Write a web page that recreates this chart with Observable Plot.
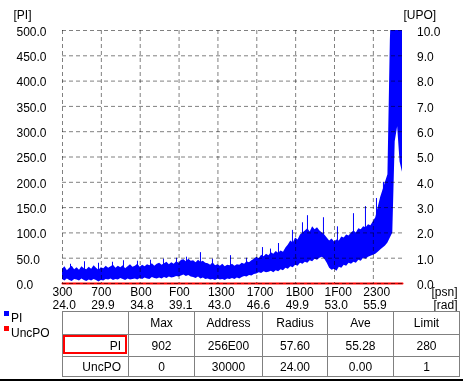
<!DOCTYPE html>
<html><head><meta charset="utf-8">
<script src="https://cdn.jsdelivr.net/npm/d3@7"></script>
<script src="https://cdn.jsdelivr.net/npm/@observablehq/plot@0.6"></script>
<style>
body{margin:0;background:#fff;}
#wrap{position:relative;width:463px;height:382px;overflow:hidden;background:#fff;font-family:"Liberation Sans",Arial,sans-serif;font-size:12px;color:#000;}
#wrap svg{position:absolute;left:0;top:0;}
.ln{position:absolute;background:#808080;}
.cell{position:absolute;display:flex;align-items:center;justify-content:center;line-height:1;white-space:nowrap;}
.sq{position:absolute;width:5px;height:5px;}
.lg{position:absolute;line-height:1;}
</style></head><body><div id="wrap"></div>
<script>
// ---- axis ticks ----
const xTickAddr = [0x300, 0x700, 0xB00, 0xF00, 0x1300, 0x1700, 0x1B00, 0x1F00, 0x2300];
const xTickHex = ["300", "700", "B00", "F00", "1300", "1700", "1B00", "1F00", "2300"];
const xTickRad = ["24.0", "29.9", "34.8", "39.1", "43.0", "46.6", "49.9", "53.0", "55.9"];
const piTicks = [0, 50, 100, 150, 200, 250, 300, 350, 400, 450, 500];
const upoTicks = [0, 1, 2, 3, 4, 5, 6, 7, 8, 9, 10];
const addrDomain = [0x300, 0x2600];

// ---- PI series: envelope (max / min per 0x40 address block) ----
const piStart = 0x300;
const piStep = 0x40;
const piHigh = [
  28,33,25,30,34,27,31,26,33,29,
  27,32,28,35,30,26,31,29,34,30,
  33,36,30,34,31,35,29,33,37,32,
  34,38,32,36,33,37,35,39,34,38,
  40,36,39,42,37,41,38,43,40,46,
  47,43,48,44,45,41,46,42,44,40,
  39,36,41,35,37,34,38,33,36,35,
  38,34,37,36,40,38,43,41,45,48,
  52,49,56,53,58,55,61,58,63,60,
  64,62,70,76,84,80,90,86,96,100,
  104,108,102,112,106,110,104,100,96,90,
  84,88,82,86,84,92,90,96,94,100,
  104,100,108,106,112,110,116,114,122,130,
  150,170,185,200,215,480,620,640,600,620,
  560];
const piLow = [
  8,5,9,6,4,8,7,5,9,6,
  4,7,5,8,6,3,6,5,8,7,
  9,6,8,7,10,8,6,9,7,8,
  9,7,10,8,11,9,8,12,10,9,
  11,9,12,10,13,11,12,14,13,15,
  17,14,16,13,12,10,13,9,11,8,
  9,7,8,6,9,7,8,6,9,8,
  10,8,11,9,12,14,13,16,15,18,
  19,21,20,23,21,22,24,21,25,23,
  27,25,30,28,33,31,36,34,40,38,
  42,40,45,43,48,46,50,52,48,40,
  30,26,28,24,32,30,36,34,40,38,
  42,40,46,44,50,48,52,54,56,58,
  62,66,70,74,80,90,100,280,310,240,
  220];
// isolated PI spikes (address, value)
const spikeAddr = [979,1348,1717,2085,2375,2744,3087,3429,3772,4035,4404,4720,5195,5616,6038,6249,6460,6828,7092,7224,7645,8014,8436,8752,9042,9226];
const spikeVal  = [38,43,40,42,45,44,46,48,50,52,61,48,55,50,71,68,79,105,120,134,130,112,138,152,168,200];

// ---- UncPO series (UPO axis) ----
const uncpoAddr = [0x300, 0x2600];
const uncpoVal = [0, 0];
const upoToPi = 50; // 10.0 UPO == 500.0 PI

// ---- table ----
const tableHeader = ["", "Max", "Address", "Radius", "Ave", "Limit"];
const tableRows = [
  ["PI", "902", "256E00", "57.60", "55.28", "280"],
  ["UncPO", "0", "30000", "24.00", "0.00", "1"]
];
const legendNames = ["PI", "UncPO"];
const legendColors = ["#0000ff", "#ff0000"];

const piData = piHigh.map((h, i) => ({addr: piStart + i * piStep, hi: h, lo: piLow[i]}));
const spikes = spikeAddr.map((a, i) => ({addr: a, v: spikeVal[i]}));
const uncpo = uncpoAddr.map((a, i) => ({addr: a, v: uncpoVal[i] * upoToPi}));

const grid = {stroke: "#808080", strokeWidth: 1, strokeDasharray: "4,3", mixBlendMode: "multiply"};

const chart = Plot.plot({
  width: 463,
  height: 382,
  marginLeft: 62,
  marginRight: 61,
  marginTop: 30,
  marginBottom: 99,
  style: {fontFamily: "'Liberation Sans', Arial, sans-serif", fontSize: "12px", background: "transparent", color: "#000"},
  x: {domain: addrDomain, axis: null},
  y: {domain: [0, 500], axis: null},
  marks: [
    Plot.areaY(piData, {x: "addr", y1: "lo", y2: "hi", fill: "#0000ff", curve: "linear", clip: true}),
    Plot.ruleX(spikes, {x: "addr", y1: d => d.v * 0.55, y2: "v", stroke: "#0000ff", strokeWidth: 1, clip: true}),
    Plot.line(uncpo, {x: "addr", y: "v", stroke: "#ff0000", strokeWidth: 2}),
    Plot.ruleY(piTicks, {y: d => d, ...grid}),
    Plot.ruleX(xTickAddr, {x: d => d, ...grid}),
    // left axis
    Plot.text(piTicks, {y: d => d, text: d => d.toFixed(1), frameAnchor: "left", dx: -46, dy: 1.5, textAnchor: "start", fill: "#000"}),
    // right axis
    Plot.text(upoTicks, {y: d => d * upoToPi, text: d => d.toFixed(1), frameAnchor: "right", dx: 14.5, dy: 1.5, textAnchor: "start", fill: "#000"}),
    // x axis rows
    Plot.text(xTickAddr, {x: d => d, text: (d, i) => xTickHex[i], frameAnchor: "bottom", dx: -10, dy: 4, textAnchor: "start", lineAnchor: "top", fill: "#000"}),
    Plot.text(xTickAddr, {x: d => d, text: (d, i) => xTickRad[i], frameAnchor: "bottom", dx: -10, dy: 17, textAnchor: "start", lineAnchor: "top", fill: "#000"}),
    // axis unit labels
    Plot.text(["[PI]"], {frameAnchor: "top-left", dx: -49, dy: -20, textAnchor: "start", lineAnchor: "top", fill: "#000"}),
    Plot.text(["[UPO]"], {frameAnchor: "top-right", dx: 1, dy: -20, textAnchor: "start", lineAnchor: "top", fill: "#000"}),
    Plot.text(["[psn]"], {frameAnchor: "bottom-right", dx: 55, dy: 4, textAnchor: "end", lineAnchor: "top", fill: "#000"}),
    Plot.text(["[rad]"], {frameAnchor: "bottom-right", dx: 55, dy: 17, textAnchor: "end", lineAnchor: "top", fill: "#000"})
  ]
});

const wrap = document.getElementById("wrap");
wrap.appendChild(chart);

function div(cls, css, text) {
  const d = document.createElement("div");
  d.className = cls;
  Object.assign(d.style, css);
  if (text !== undefined) d.textContent = text;
  wrap.appendChild(d);
  return d;
}

// legend
legendNames.forEach((n, i) => {
  div("sq", {left: "4px", top: (311 + i * 15) + "px", background: legendColors[i]});
  div("lg", {left: "11px", top: (312 + i * 15) + "px"}, n);
});

// table
const colX = [62, 128, 194, 262, 327, 393, 459];
const rowY = [311, 334, 356, 376];
colX.forEach(x => div("ln", {left: x + "px", top: rowY[0] + "px", width: "1px", height: (rowY[3] - rowY[0] + 1) + "px"}));
rowY.forEach(y => div("ln", {left: colX[0] + "px", top: y + "px", width: (colX[6] - colX[0] + 1) + "px", height: "1px"}));
const allRows = [tableHeader, ...tableRows];
allRows.forEach((row, r) => {
  row.forEach((t, c) => {
    const css = {left: (colX[c] + 1) + "px", top: (rowY[r] + 1) + "px", width: (colX[c + 1] - colX[c] - 1) + "px", height: (rowY[r + 1] - rowY[r] - 1) + "px"};
    if (c === 0 && r > 0) { css.justifyContent = "flex-end"; css.paddingRight = "7px"; css.boxSizing = "border-box"; }
    div("cell", css, t);
  });
});
// highlighted PI cell
div("sq", {left: "63px", top: "335px", width: "64px", height: "19px", border: "2px solid #ff0000", boxSizing: "border-box", background: "transparent"});
// bottom window edge
div("sq", {left: "0px", top: "379px", width: "463px", height: "2px", background: "#000"});
</script>
</body></html>
